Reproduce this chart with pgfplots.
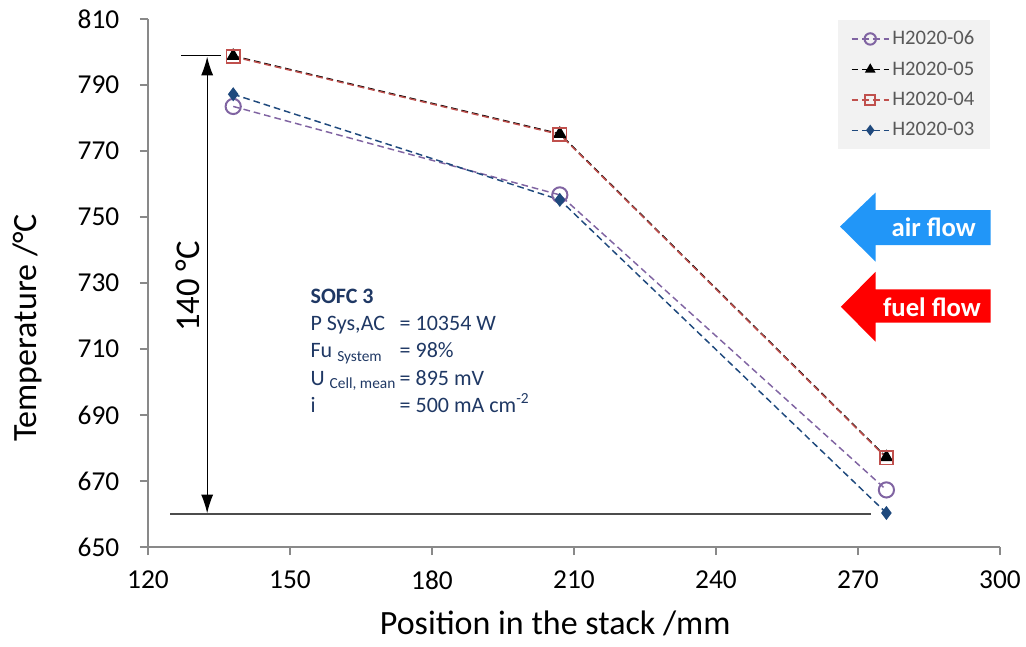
\documentclass[border=0pt]{standalone}
\usepackage{fontspec}
\setmainfont{Carlito}
\usepackage{pgfplots}
\pgfplotsset{compat=1.18}
\usetikzlibrary{arrows.meta}

\definecolor{cpurple}{HTML}{8064A2}
\definecolor{cred}{HTML}{C0504D}
\definecolor{cblue}{HTML}{1F497D}
\definecolor{navy}{HTML}{1F3864}
\definecolor{axisgray}{HTML}{898989}
\definecolor{legbg}{HTML}{F2F2F2}
\definecolor{leggray}{HTML}{595959}
\definecolor{airblue}{HTML}{2196F8}
\definecolor{fuelred}{HTML}{FF0000}

\begin{document}
\begin{tikzpicture}
\begin{axis}[
    name=main,
    scale only axis,
    width=639pt, height=396pt,
    xmin=120, xmax=300, ymin=650, ymax=810,
    xtick={120,150,...,300},
    ytick={650,670,...,810},
    axis x line*=bottom, axis y line*=left,
    axis line style={draw=axisgray, line width=0.9pt},
    tick style={draw=axisgray, line width=0.9pt},
    tick align=outside,
    major tick length=6pt,
    /pgf/number format/assume math mode=true,
    ticklabel style={font=\fontsize{20.5}{24}\selectfont},
    xticklabel style={yshift=-8.5pt},
    yticklabel style={xshift=-12pt},
    xlabel={Position in the stack /mm},
    ylabel={Temperature /°C},
    label style={font=\fontsize{25.5}{30}\selectfont},
    xlabel style={at={(axis description cs:0.478,-0.145)}, anchor=center},
    ylabel style={at={(axis description cs:-0.142,0.415)}, anchor=center},
    legend style={at={(axis description cs:0.989,0.998)}, anchor=north east,
        fill=legbg, draw=none, text=leggray,
        font=\fontsize{15.5}{18}\selectfont,
        row sep=7.2pt, inner xsep=10pt, inner ysep=6pt},
    legend cell align=left,
    legend image code/.code={
        \draw[mark repeat=2, mark phase=2, #1, every mark/.append style={scale=0.75}]
            plot coordinates {(0pt,0pt) (14pt,0pt) (28pt,0pt)};},
    every axis plot/.append style={line width=1.1pt, dash pattern=on 5pt off 3pt},
]
\addplot[cpurple, mark=o, mark size=5.7pt, mark options={solid, line width=1.5pt}]
    coordinates {(138,783.5) (207,756.7) (276,667.3)};
\addlegendentry{H2020-06}
\addplot[black, mark=triangle*, mark size=4.8pt, mark options={solid}]
    coordinates {(138,798.8) (207,775.2) (276,677.2)};
\addlegendentry{H2020-05}
\addplot[cred, mark=square, mark size=5pt, mark options={solid, line width=1.3pt}]
    coordinates {(138,798.6) (207,775.0) (276,677.0)};
\addlegendentry{H2020-04}
\addplot[cblue, mark=diamond*, mark size=4.4pt, mark options={solid}]
    coordinates {(138,787.2) (207,755.2) (276,660.3)};
\addlegendentry{H2020-03}

% 140 degC span
\draw[black, line width=0.8pt] (axis cs:127,798.8) -- (axis cs:135.5,798.8);
\draw[black!70, line width=1.5pt] (axis cs:124.7,660) -- (axis cs:272.7,660);
\draw[black, line width=0.9pt, -{Latex[length=14pt,width=9pt]}] (axis cs:132.5,729) -- (axis cs:132.5,798.6);
\draw[black, line width=0.9pt, -{Latex[length=14pt,width=9pt]}] (axis cs:132.5,729) -- (axis cs:132.5,660.2);
\node[rotate=90, font=\fontsize{26}{30}\selectfont, anchor=center] at (axis cs:128.4,729) {140 °C};

% operating point
\node[anchor=north west, inner sep=0pt, text=navy, font=\fontsize{16.5}{20.3}\selectfont]
    at (axis cs:154.3,729.5) {%
    \begin{tabular}{@{}l@{\,}l@{}}
    \textbf{SOFC 3} & \\
    P Sys,AC & = 10354 W\\
    Fu \textsubscript{System} & = 98\%\\
    U \textsubscript{Cell, mean} & = 895 mV\\
    i & = 500 mA cm\textsuperscript{-2}
    \end{tabular}};

% flow arrows
\fill[airblue] (axis cs:266.2,747.1) -- (axis cs:273.7,757.4) -- (axis cs:273.7,752.1)
    -- (axis cs:298,752.1) -- (axis cs:298,741.5) -- (axis cs:273.7,741.5)
    -- (axis cs:273.7,736.5) -- cycle;
\node[white, font=\bfseries\fontsize{20}{24}\selectfont] at (axis cs:286,746.8) {air flow};
\fill[fuelred] (axis cs:266.4,722.8) -- (axis cs:273.7,733.4) -- (axis cs:273.7,728.1)
    -- (axis cs:298,728.1) -- (axis cs:298,718.0) -- (axis cs:273.7,718.0)
    -- (axis cs:273.7,712.2) -- cycle;
\node[white, font=\bfseries\fontsize{20}{24}\selectfont] at (axis cs:285.6,722.8) {fuel flow};
\end{axis}
\pgfresetboundingbox
\path[use as bounding box] ([shift={(-111pt,-74.25pt)}]main.south west) rectangle ([shift={(19.5pt,14.25pt)}]main.north east);
\end{tikzpicture}
\end{document}
